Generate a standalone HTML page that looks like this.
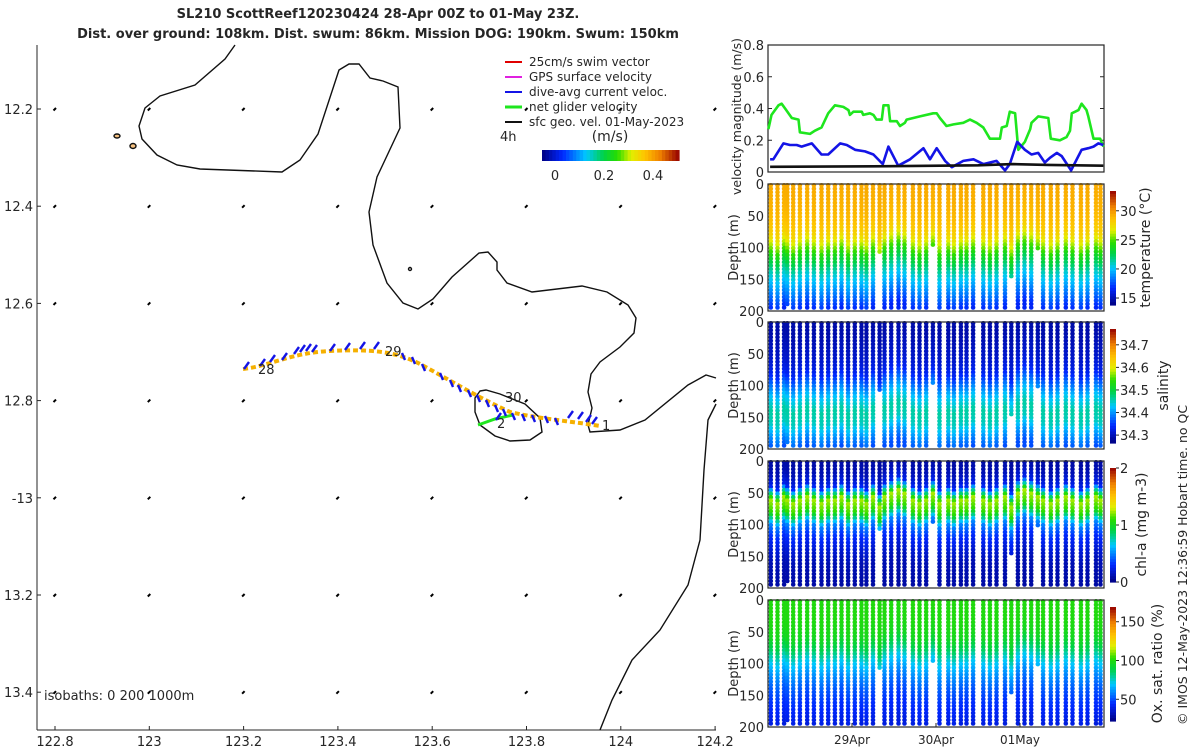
<!DOCTYPE html>
<html><head><meta charset="utf-8">
<style>
html,body{margin:0;padding:0;background:#fff;}
svg{display:block;font-family:"DejaVu Sans","Liberation Sans",sans-serif;}
text{fill:#262626;}
</style></head>
<body>
<svg id="fig" width="1200" height="750" viewBox="0 0 1200 750" xmlns="http://www.w3.org/2000/svg">
<rect width="1200" height="750" fill="#fff"/>
<g font-weight="bold" font-size="13" text-anchor="middle">
<text x="378" y="18">SL210 ScottReef120230424 28-Apr 00Z to 01-May 23Z.</text>
<text x="378" y="38">Dist. over ground: 108km. Dist. swum: 86km. Mission DOG: 190km. Swum: 150km</text>
</g>
<g id="map"></g>
<g id="vel"></g>
<g id="prof"></g>
<text transform="translate(1187,725) rotate(-90)" font-size="12.5">© IMOS 12-May-2023 12:36:59 Hobart time. no QC</text>
</svg>
<script>
// ---------- data ----------
const greenT=[0.1,1.0,3.0,3.9,4.9,6.8,8.7,9.1,12,13.4,15.3,17.2,19.1,21.5,23,23.4,24.4,26.8,27.2,29.1,30.1,31,32.5,33,34.4,34.9,36.8,37.7,39.1,39.6,41.5,43.4,47.2,48.2,49.1,51,53,55.8,57.7,59.6,61.5,63.4,66.3,66.8,68.2,69.1,70.6,71.5,73.4,74.9,75.3,77.2,80.1,80.8,83.4,85.3,86.3,86.8,88.7,89.6,91,91.5,93,94.9,95.8];
const greenV=[0.27,0.36,0.42,0.43,0.40,0.34,0.33,0.25,0.24,0.26,0.28,0.37,0.42,0.41,0.39,0.36,0.38,0.38,0.36,0.37,0.36,0.33,0.33,0.42,0.42,0.32,0.32,0.29,0.31,0.33,0.34,0.35,0.37,0.37,0.34,0.29,0.30,0.31,0.33,0.31,0.28,0.21,0.21,0.28,0.29,0.38,0.37,0.14,0.19,0.27,0.31,0.35,0.34,0.21,0.20,0.22,0.26,0.37,0.39,0.43,0.39,0.35,0.21,0.21,0.16];
const blueT=[0.6,1.5,4.4,6.3,8.2,9.6,12.5,15.3,17.2,20.6,22.5,24.9,27.7,30.1,32.8,34.4,37.2,40.6,44.4,46.3,48.2,50.6,52.5,55.8,58.7,61.5,65.3,67.7,69.1,71.2,73.4,75.3,77.2,79.1,80.6,82.5,83.9,86.6,89.6,91.5,93,94.4,95.8];
const blueV=[0.08,0.08,0.18,0.17,0.17,0.16,0.18,0.11,0.11,0.18,0.17,0.14,0.13,0.11,0.05,0.16,0.04,0.08,0.15,0.08,0.15,0.07,0.03,0.07,0.08,0.05,0.07,0.01,0.05,0.19,0.14,0.11,0.12,0.06,0.09,0.12,0.10,0.01,0.14,0.15,0.16,0.18,0.17];
const blackT=[0.6,30,60,70,80,95.8];
const blackV=[0.033,0.036,0.042,0.05,0.045,0.04];
const velTicks=[0,0.2,0.4,0.6,0.8];
const dayTicks=[24,48,72];
const dayLabels=["29Apr","30Apr","01May"];
const profT=[0.8,2.7,4.6,5.5,7.2,9.1,11.2,13.1,15.3,17.2,19.1,21,22.9,24.8,26.7,28.1,30,31.9,33.3,35.2,37.3,39,41.4,43.3,45.2,47.1,49,51.5,53.1,55.1,56.7,58.6,61.5,63.4,65.3,67.7,69.5,71.4,73.3,75.2,77.1,78.6,80.8,82.7,85.1,87,89.4,91.3,93.7,95];
const profMax=[195,195,195,190,195,195,195,195,195,195,195,195,195,195,195,195,195,110,195,195,195,195,195,195,195,100,195,195,195,195,195,195,195,195,195,195,145,195,195,195,105,195,195,195,195,195,195,195,195,195];
const profShift=[0,5,-5,0,5,0,-5,0,5,0,0,-5,5,0,0,5,-5,10,-5,-10,-15,-10,0,5,0,-10,5,0,5,0,0,-5,0,5,0,-5,10,-10,-15,-10,-5,0,5,0,-5,0,5,0,-5,0];
const depthLevels=[0,20,40,60,80,100,120,140,160,180,200];
const tempProfile=[29.3,29.2,29.0,28.6,27.8,25.5,23,21,19.5,18,16.5];
const salProfile=[34.29,34.29,34.30,34.31,34.33,34.38,34.43,34.46,34.45,34.40,34.36];
const chlProfile=[0.08,0.12,0.25,1.25,1.1,0.5,0.3,0.2,0.12,0.1,0.08];
const oxyProfile=[100,100,99,96,85,70,60,52,46,42,38];
const lonTicks=[122.8,123,123.2,123.4,123.6,123.8,124,124.2];
const latTicks=[12.2,12.4,12.6,12.8,13,13.2,13.4];
const latLabels=["12.2","12.4","12.6","12.8","-13","13.2","13.4"];

// ---------- helpers ----------
const NS="http://www.w3.org/2000/svg";
function mk(tag,attrs,parent){const e=document.createElementNS(NS,tag);for(const k in attrs)e.setAttribute(k,attrs[k]);parent.appendChild(e);return e;}
const CM=[[0,0,0,130],[0.15,0,40,255],[0.32,0,200,255],[0.45,0,210,70],[0.55,40,220,0],[0.65,225,240,0],[0.75,255,195,0],[0.86,240,130,0],[1,150,0,0]];
function jet(t){t=Math.max(0,Math.min(1,t));
 for(let i=1;i<CM.length;i++){if(t<=CM[i][0]){const a=CM[i-1],b=CM[i],f=(t-a[0])/(b[0]-a[0]);
  return `rgb(${Math.round(a[1]+f*(b[1]-a[1]))},${Math.round(a[2]+f*(b[2]-a[2]))},${Math.round(a[3]+f*(b[3]-a[3]))})`;}}
 return 'rgb(150,0,0)';}
function interp(xs,ys,x){if(x<=xs[0])return ys[0];for(let i=1;i<xs.length;i++){if(x<=xs[i]){const f=(x-xs[i-1])/(xs[i]-xs[i-1]);return ys[i-1]+f*(ys[i]-ys[i-1]);}}return ys[ys.length-1];}
const AX0=768,AX1=1104;
const xT=h=>AX0+(h/96)*(AX1-AX0);

// ---------- velocity panel ----------
const vel=document.getElementById('vel');
const VY0=45,VY1=172;const yV=v=>VY1-(v/0.8)*(VY1-VY0);
let fr=mk('rect',{x:AX0,y:VY0,width:AX1-AX0,height:VY1-VY0,fill:'none',stroke:'#262626','stroke-width':1.2},vel);

velTicks.forEach(v=>{
 let t=mk('text',{x:AX0-4,y:yV(v)+5,'font-size':13,'text-anchor':'end'},vel);t.textContent=String(v);
 
 mk('line',{x1:AX0,x2:AX0+4,y1:yV(v),y2:yV(v),stroke:'#262626'},vel);
 mk('line',{x1:AX1-4,x2:AX1,y1:yV(v),y2:yV(v),stroke:'#262626'},vel);
});
let vt=mk('text',{transform:`translate(741,${(VY0+VY1)/2+8}) rotate(-90)`,'font-size':12.5,'text-anchor':'middle'},vel);vt.textContent='velocity magnitude (m/s)';

function line(ts,vs,col,name){let d='';ts.forEach((t,i)=>{d+=(i?'L':'M')+xT(t).toFixed(1)+','+yV(vs[i]).toFixed(1);});
 const p=mk('path',{d:d,fill:'none',stroke:col,'stroke-width':2.6,'stroke-linejoin':'round'},vel);
 }
line(greenT,greenV,'#1ee61e','net-glider-velocity-line');
line(blueT,blueV,'#1414e6','dive-avg-current-line');
line(blackT,blackV,'#111','sfc-geo-velocity-line');

// ---------- profile panels ----------
const prof=document.getElementById('prof');
const panels=[
 {name:'temperature',y0:184,prof:tempProfile,vmin:13.8,vmax:33.4,ticks:[15,20,25,30],tl:['15','20','25','30'],title:'temperature (°C)',tx:1150},
 {name:'salinity',y0:322,prof:salProfile,vmin:34.265,vmax:34.77,ticks:[34.3,34.4,34.5,34.6,34.7],tl:['34.3','34.4','34.5','34.6','34.7'],title:'salinity',tx:1168},
 {name:'chlorophyll',y0:461,prof:chlProfile,vmin:0,vmax:2,ticks:[0,1,2],tl:['0','1','2'],title:'chl-a (mg m-3)',tx:1146},
 {name:'oxygen',y0:600,prof:oxyProfile,vmin:22,vmax:169,ticks:[50,100,150],tl:['50','100','150'],title:'Ox. sat. ratio (%)',tx:1162}
];
panels.forEach((P,pi)=>{
 const g=mk('g',{},prof);
 const H=127;const yD=d=>P.y0+(d/200)*H;
 const dots=mk('g',{},g);
 profT.forEach((t,i)=>{
  const x=xT(t);
  for(let d=2;d<=profMax[i];d+=5.5){
   const v=interp(depthLevels,P.prof,d-profShift[i]);
   mk('circle',{cx:x.toFixed(1),cy:yD(d).toFixed(1),r:2.3,fill:jet((v-P.vmin)/(P.vmax-P.vmin))},dots);
  }
 });
 let f=mk('rect',{x:AX0,y:P.y0,width:AX1-AX0,height:H,fill:'none',stroke:'#262626','stroke-width':1.2},g);
 
 [0,50,100,150,200].forEach(d=>{let t=mk('text',{x:AX0-4,y:yD(d)+5,'font-size':13,'text-anchor':'end'},g);t.textContent=String(d);
  });
 let yt=mk('text',{transform:`translate(738,${P.y0+H/2}) rotate(-90)`,'font-size':13,'text-anchor':'middle'},g);yt.textContent='Depth (m)';
 
 const cb0=P.y0+7,cb1=P.y0+H-6;
 const cbar=mk('g',{},g);
 for(let k=0;k<40;k++){mk('rect',{x:1110,y:cb0+(cb1-cb0)*k/40,width:6,height:(cb1-cb0)/40+0.6,fill:jet(1-(k+0.5)/40)},cbar);}
 const yC=v=>cb1-(v-P.vmin)/(P.vmax-P.vmin)*(cb1-cb0);
 P.ticks.forEach((v,k)=>{mk('line',{x1:1116,x2:1119,y1:yC(v),y2:yC(v),stroke:'#262626'},cbar);
  let t=mk('text',{x:1120,y:yC(v)+5,'font-size':13},cbar);t.textContent=P.tl[k];
  });
 let ct=mk('text',{transform:`translate(${P.tx},${P.y0+H/2}) rotate(-90)`,'font-size':14,'text-anchor':'middle'},g);ct.textContent=P.title;
 
 if(pi===3){dayTicks.forEach((h,k)=>{mk('line',{x1:xT(h),x2:xT(h),y1:P.y0+H,y2:P.y0+H-4,stroke:'#262626'},g);
  let t=mk('text',{x:xT(h),y:P.y0+H+17,'font-size':12,'text-anchor':'middle'},g);t.textContent=dayLabels[k];
  });}
});

// ---------- map ----------
const map=document.getElementById('map');
const MX0=37,MX1=716,MY0=45,MY1=730;
const xL=lon=>55+(lon-122.8)/0.2*94.3;
const yL=lat=>109+(lat-12.2)/0.2*97.2;
let mf=mk('rect',{x:MX0,y:MY0,width:MX1-MX0,height:MY1-MY0,fill:'none',stroke:'none'},map);

mk('line',{x1:MX0,x2:MX0,y1:MY0,y2:MY1,stroke:'#262626'},map);
mk('line',{x1:MX0,x2:MX1,y1:MY1,y2:MY1,stroke:'#262626'},map);
lonTicks.forEach(l=>{let t=mk('text',{x:xL(l),y:746,'font-size':13,'text-anchor':'middle'},map);t.textContent=String(l);
 
 mk('line',{x1:xL(l),x2:xL(l),y1:MY1,y2:MY1-4,stroke:'#262626'},map);});
latTicks.forEach((l,k)=>{let t=mk('text',{x:33,y:yL(l)+5,'font-size':13,'text-anchor':'end'},map);t.textContent=latLabels[k];
 
 mk('line',{x1:MX0,x2:MX0+4,y1:yL(l),y2:yL(l),stroke:'#262626'},map);});
const ag=mk('g',{},map);
lonTicks.forEach(lo=>latTicks.forEach(la=>{const x=xL(lo),y=yL(la);mk('path',{d:`M${x-1.5},${y+1.5}L${x+1},${y-1}`,stroke:'#000','stroke-width':2},ag);}));
const coast=mk('g',{fill:'none',stroke:'#111','stroke-width':1.4},map);
mk('path',{d:'M235,45 L225,59 L195,85 L160,96 L145,108 L139,126 L142,139 L157,155 L177,165 L200,169 L282,172 L300,160 L318,134 L339,70 L349,64 L359,64 L370,78 L383,81 L398,87 L400,128 L377,177 L369,212 L373,245 L387,283 L403,303 L418,309 L433,299 L452,277 L479,253 L488,252 L497,262 L497,270 L507,283 L532,292 L582,286 L607,292 L628,305 L636,318 L634,333 L620,347 L600,362 L591,374 L588,392 L592,408 L588,425 L590,432 L620,430 L645,420 L688,385 L706,375 L716,378'},coast);
mk('path',{d:'M716,404 L708,420 L704,470 L700,540 L688,585 L660,630 L632,660 L612,700 L600,730'},coast);
mk('path',{d:'M480,391 L486,390 L500,394 L525,404 L540,418 L542,432 L530,440 L510,441 L495,436 L480,425 L475,412 L475,398 Z'},coast);
mk('ellipse',{cx:117,cy:136,rx:3,ry:2,fill:'#f5c080'},coast);mk('ellipse',{cx:133,cy:146,rx:3,ry:2.5,fill:'#f5c080'},coast);
mk('circle',{cx:410,cy:269,r:1.5},coast);
const tr=mk('g',{},map);
mk('path',{d:'M243,369 C270,366 290,353 330,351 C370,349 395,351 420,364 C450,380 475,396 510,412 C540,419 570,421 600,426',fill:'none',stroke:'#f5b000','stroke-width':4,'stroke-dasharray':'5 3'},tr);
mk('path',{d:'M478,425 L495,419 L513,415',fill:'none',stroke:'#1ee61e','stroke-width':3},tr);
const ticksUp=[[244,369],[260,366],[270,362],[282,360],[294,354],[300,352],[306,351],[312,352],[330,351],[345,350],[360,349],[374,349],[568,418],[578,419],[586,422],[592,424],[496,420]];
const ticksDown=[[402,353],[412,357],[422,364],[440,373],[450,380],[458,385],[468,390],[477,395],[486,400],[495,405],[503,409],[512,413],[522,414],[532,415],[545,416],[555,418]];
ticksUp.forEach(p=>mk('path',{d:`M${p[0]},${p[1]} l5,-7`,stroke:'#1414e6','stroke-width':2.4},tr));
ticksDown.forEach(p=>mk('path',{d:`M${p[0]},${p[1]} l3,7`,stroke:'#1414e6','stroke-width':2.4},tr));
[['28',258,374],['29',385,356],['30',505,402],['1',602,430],['2',497,428]].forEach(a=>{let t=mk('text',{x:a[1],y:a[2],'font-size':13},tr);t.textContent=a[0];
 });
let iso=mk('text',{x:44,y:700,'font-size':13},map);iso.textContent='isobaths: 0   200   1000m';

const lg=mk('g',{'font-size':12},map);
[['#e00000','25cm/s swim vector',66],['#e020e0','GPS surface velocity',81],['#1414e6','dive-avg current veloc.',96],['#1ee61e','net glider veloçity',111],['#111','sfc geo. vel. 01-May-2023',126]].forEach(e=>{
 mk('line',{x1:505,x2:522,y1:e[2]-4,y2:e[2]-4,stroke:e[0],'stroke-width':e[0]=='#1ee61e'?3:2},lg);
 let t=mk('text',{x:529,y:e[2]},lg);t.textContent=e[1];});
let h4=mk('text',{x:500,y:141,'font-size':13},lg);h4.textContent='4h';
let ms=mk('text',{x:610,y:141,'font-size':14,'text-anchor':'middle'},lg);ms.textContent='(m/s)';
const mcb=mk('g',{},map);
for(let k=0;k<40;k++)mk('rect',{x:542+137*k/40,y:150,width:137/40+0.6,height:11,fill:jet((k+0.5)/40)},mcb);
[[0,555],[0.2,604],[0.4,653]].forEach(a=>{let t=mk('text',{x:a[1],y:180,'font-size':13,'text-anchor':'middle'},mcb);t.textContent=String(a[0]);
 });
</script>
</body></html>
